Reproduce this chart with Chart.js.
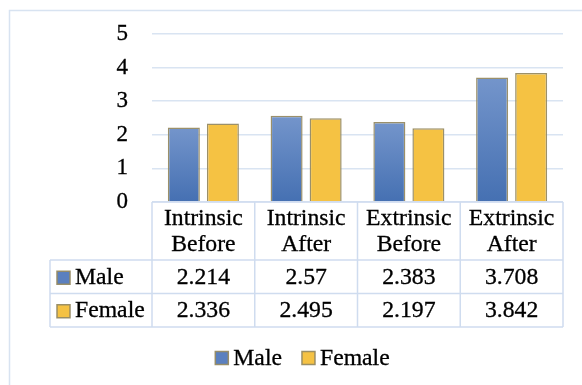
<!DOCTYPE html>
<html>
<head>
<meta charset="utf-8">
<script src="https://cdn.jsdelivr.net/npm/chart.js@4/dist/chart.umd.min.js"></script>
<style>
  html, body { margin: 0; padding: 0; background: #fff; }
  #wrap { width: 582px; height: 385px; position: relative; }
</style>
</head>
<body>
<div id="wrap"><canvas id="c" width="582" height="385"></canvas></div>
<script>
// Motivation scores by gender
const categories = [["Intrinsic", "Before"], ["Intrinsic", "After"], ["Extrinsic", "Before"], ["Extrinsic", "After"]];
const seriesNames = ["Male", "Female"];
const maleValues = [2.214, 2.57, 2.383, 3.708];
const femaleValues = [2.336, 2.495, 2.197, 3.842];
const yTickValues = [0, 1, 2, 3, 4, 5];

const FONT = '"Liberation Serif", "Times New Roman", serif';
const FONT_SIZE = 23;
const GRID = '#d9e4f2';
const TABLE_LINE = '#cfdcef';
const BAR_EDGE = 'rgba(150,138,98,0.95)';
const MALE_KEY = '#5b80bf';
const FEMALE_FILL = '#f5c243';

function maleGradient(ctx) {
  const chart = ctx.chart;
  const area = chart.chartArea;
  if (!area || ctx.type !== 'data') return MALE_KEY;
  const y = chart.scales.y;
  const top = y.getPixelForValue(ctx.parsed.y);
  const bottom = y.getPixelForValue(0);
  const g = chart.ctx.createLinearGradient(0, top, 0, bottom);
  g.addColorStop(0, '#7495cb');
  g.addColorStop(1, '#4570b2');
  return g;
}

// Slightly widened text for the table and legend
function drawText(ctx, text, x, y, align) {
  const sx = 1.03;
  ctx.save();
  ctx.translate(x, y);
  ctx.scale(sx, 1);
  ctx.textAlign = align || 'center';
  ctx.textBaseline = 'middle';
  ctx.lineWidth = 0.3;
  ctx.strokeStyle = '#000';
  ctx.fillText(text, 0, 0);
  ctx.strokeText(text, 0, 0);
  ctx.restore();
}

function drawKey(ctx, x, y, fill) {
  ctx.save();
  ctx.fillStyle = fill;
  ctx.fillRect(x, y - 6.5, 13, 13);
  ctx.strokeStyle = BAR_EDGE;
  ctx.lineWidth = 1.5;
  ctx.strokeRect(x, y - 6.5, 13, 13);
  ctx.restore();
}

const framePlugin = {
  id: 'frame',
  beforeDraw(chart) {
    const ctx = chart.ctx;
    ctx.save();
    ctx.fillStyle = '#fff';
    ctx.fillRect(0, 0, chart.width, chart.height);
    ctx.strokeStyle = '#d8e3f1';
    ctx.lineWidth = 1.5;
    ctx.strokeRect(9.5, 10.5, chart.width + 20, chart.height + 20);
    ctx.restore();
  }
};

// Data table under the bars, one column per category
const tablePlugin = {
  id: 'dataTable',
  afterDraw(chart) {
    const ctx = chart.ctx;
    const area = chart.chartArea;
    const xs = chart.scales.x;
    const n = chart.data.labels.length;
    const colW = (area.right - area.left) / n;
    const top = area.bottom;
    const headerH = 58;
    const rowH = 33.5;
    const labelLeft = 50;
    const rowsTop = top + headerH;
    const bottom = rowsTop + rowH * chart.data.datasets.length;

    ctx.save();
    ctx.strokeStyle = TABLE_LINE;
    ctx.lineWidth = 1.5;
    ctx.beginPath();
    ctx.moveTo(area.left, top); ctx.lineTo(area.right, top);
    for (let r = 0; r <= chart.data.datasets.length; r++) {
      const y = rowsTop + r * rowH;
      ctx.moveTo(labelLeft, y); ctx.lineTo(area.right, y);
    }
    for (let i = 0; i <= n; i++) {
      const x = area.left + i * colW;
      ctx.moveTo(x, top); ctx.lineTo(x, bottom);
    }
    ctx.moveTo(labelLeft, rowsTop); ctx.lineTo(labelLeft, bottom);
    ctx.stroke();

    ctx.fillStyle = '#000';
    ctx.font = FONT_SIZE + 'px ' + FONT;
    chart.data.labels.forEach((lines, i) => {
      const cx = xs.getPixelForValue(i);
      const cy = top + headerH / 2;
      drawText(ctx, lines[0], cx, cy - 12.5);
      drawText(ctx, lines[1], cx, cy + 13.5);
    });
    chart.data.datasets.forEach((ds, r) => {
      const cy = rowsTop + r * rowH + rowH / 2 + 1;
      drawKey(ctx, labelLeft + 7, cy, r === 0 ? MALE_KEY : FEMALE_FILL);
      ctx.fillStyle = '#000';
      drawText(ctx, ds.label, labelLeft + 25, cy, 'left');
      ds.data.forEach((v, i) => {
        drawText(ctx, String(v), xs.getPixelForValue(i), cy);
      });
    });
    ctx.restore();
  }
};

// Legend under the table
const legendPlugin = {
  id: 'bottomLegend',
  afterDraw(chart) {
    const ctx = chart.ctx;
    ctx.save();
    ctx.font = FONT_SIZE + 'px ' + FONT;
    const fills = [MALE_KEY, FEMALE_FILL];
    const items = chart.data.datasets.map((ds, i) => ({
      label: ds.label,
      fill: fills[i],
      w: 13 + 5 + ctx.measureText(ds.label).width * 1.03
    }));
    const gap = 20;
    const total = items.reduce((s, it) => s + it.w, 0) + gap * (items.length - 1);
    let x = (chart.chartArea.left + chart.chartArea.right) / 2 - total / 2 - 55;
    const y = 358;
    items.forEach(it => {
      drawKey(ctx, x, y, it.fill);
      ctx.fillStyle = '#000';
      drawText(ctx, it.label, x + 18, y + 1, 'left');
      x += it.w + gap;
    });
    ctx.restore();
  }
};

new Chart(document.getElementById('c'), {
  type: 'bar',
  data: {
    labels: categories,
    datasets: [
      {
        label: seriesNames[0],
        data: maleValues,
        backgroundColor: maleGradient,
        borderColor: BAR_EDGE,
        borderWidth: 1.5
      },
      {
        label: seriesNames[1],
        data: femaleValues,
        backgroundColor: FEMALE_FILL,
        borderColor: BAR_EDGE,
        borderWidth: 1.5
      }
    ]
  },
  options: {
    responsive: false,
    animation: false,
    categoryPercentage: 0.76,
    barPercentage: 0.82,
    layout: { padding: { top: 34, left: 10, right: 19, bottom: 58 } },
    plugins: {
      legend: { display: false },
      tooltip: { enabled: false }
    },
    scales: {
      x: {
        grid: { display: false },
        border: { display: false },
        ticks: { display: false },
        afterFit(scale) { scale.height = 125; }
      },
      y: {
        min: yTickValues[0],
        max: yTickValues[yTickValues.length - 1],
        afterBuildTicks(scale) { scale.ticks = yTickValues.map(v => ({ value: v })); },
        afterFit(scale) { scale.width = 142; scale.paddingTop = 0; scale.paddingBottom = 0; },
        grid: { color: GRID, lineWidth: 1.5, drawTicks: false },
        border: { display: false },
        ticks: {
          padding: 24,
          color: '#000',
          textStrokeColor: '#000',
          textStrokeWidth: 0.3,
          font: { family: FONT, size: FONT_SIZE }
        }
      }
    }
  },
  plugins: [framePlugin, tablePlugin, legendPlugin]
});
</script>
</body>
</html>
